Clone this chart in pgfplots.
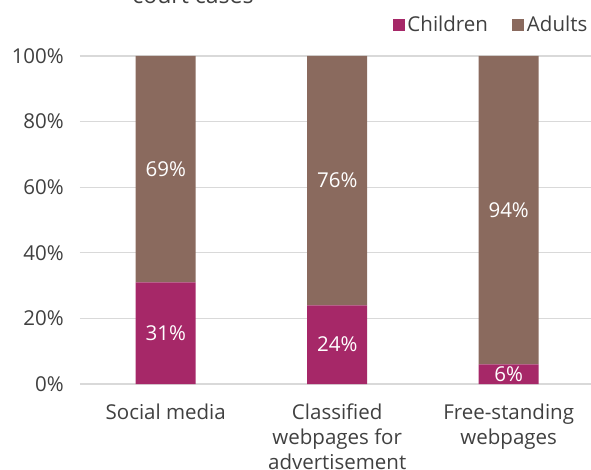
\documentclass[border=0pt]{standalone}
\usepackage{pgfplots}
\pgfplotsset{compat=1.18}
\usepackage{pgfplotstable}
\usepackage{fontspec}
\setmainfont{Open Sans}

\definecolor{children}{HTML}{A62868}
\definecolor{adults}{HTML}{8A6A5E}
\definecolor{txt}{HTML}{404040}
\definecolor{gridc}{HTML}{D9D9D9}

% share of court cases, per type of site
\pgfplotstableread{
x children adults
0 31 69
1 24 76
2 6  94
}\shares

\begin{document}
\begin{tikzpicture}[font=\fontsize{20.5bp}{25bp}\selectfont]
\begin{axis}[
    at={(0,0)}, anchor=south west,
    scale only axis,
    width=511bp, height=328bp,
    ybar stacked,
    bar width=60bp,
    xmin=-0.5, xmax=2.48,
    ymin=0, ymax=100,
    axis line style={draw=none},
    major tick length=0pt,
    ymajorgrids,
    grid style={gridc, line width=1.3bp},
    ytick={0,20,...,100},
    yticklabel={\pgfmathprintnumber{\tick}\%},
    /pgf/number format/assume math mode=true,
    yticklabel style={anchor=east, inner sep=0pt, xshift=-16bp, text=txt},
    xtick=data,
    xticklabels={Social media, {Classified\\webpages for\\advertisement}, {Free-standing\\webpages}},
    xticklabel style={align=center, anchor=north, inner sep=0pt, yshift=-20bp, text=txt},
    nodes near coords={\pgfmathprintnumber{\pgfplotspointmeta}\%},
    nodes near coords align={center},
    every node near coord/.append style={text=white, anchor=center},
    legend columns=2,
    legend style={at={(rel axis cs:1,1)}, anchor=south east, yshift=20bp, xshift=-1bp,
        draw=none, fill=none, inner sep=0pt, text=txt,
        /tikz/every even column/.append style={column sep=22bp},
        nodes={inner sep=2.5bp}},
    legend image code/.code={\fill[#1] (-1bp,-6bp) rectangle (11bp,6bp);},
]
\addplot[fill=children, draw=none] table[x=x, y=children] {\shares};
\addplot[fill=adults, draw=none] table[x=x, y=adults] {\shares};
\legend{Children, Adults}
\end{axis}
\node[anchor=base, text=txt, font=\fontsize{23bp}{27bp}\selectfont] at (113bp,380bp) {court cases};
\pgfresetboundingbox
\useasboundingbox (-80bp,-86bp) rectangle (511bp,384bp);
\end{tikzpicture}
\end{document}
